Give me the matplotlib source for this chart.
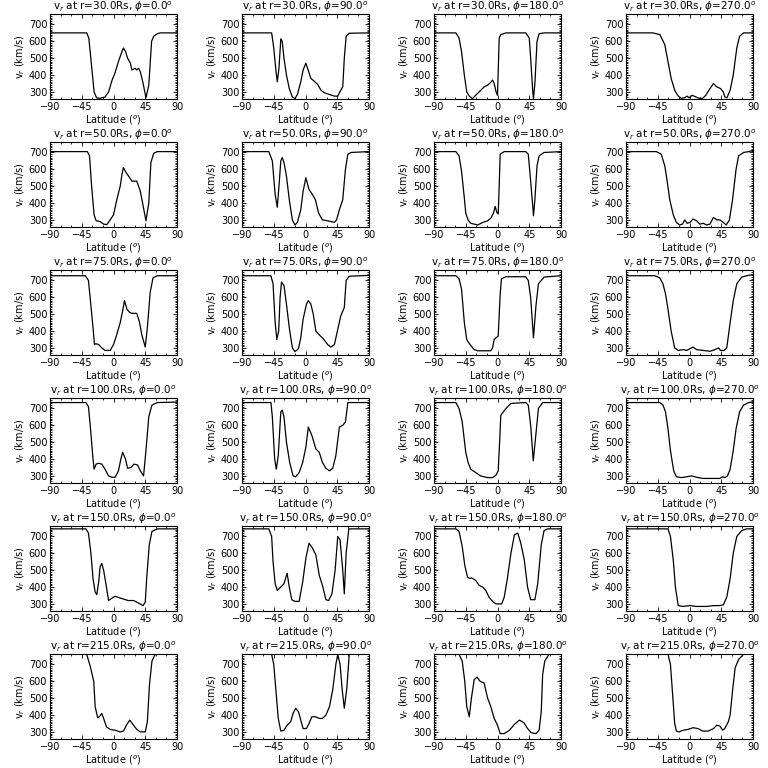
import matplotlib
matplotlib.use("Agg")
import matplotlib.pyplot as plt
from matplotlib.ticker import MultipleLocator

# radial velocity profiles vs latitude
radii = [30.0, 50.0, 75.0, 100.0, 150.0, 215.0]
phis = [0.0, 90.0, 180.0, 270.0]

# r = 30 Rs
lat_30_0 = [-90, -38, -35, -31, -27.5, -24, -19, -12, -7, -2, 2, 7, 12, 14, 17, 20, 24, 26, 31, 33, 35.5, 38, 42, 46, 50, 54, 57, 62, 66, 90]
v_30_0 = [650, 650, 620, 450, 300, 265, 262, 270, 300, 370, 410, 480, 540, 560, 540, 500, 470, 430, 440, 430, 440, 420, 350, 265, 340, 600, 630, 645, 650, 650]
lat_30_90 = [-90, -48, -45, -42, -40, -37.6, -35, -33, -30.5, -27, -23, -18.6, -15, -11.5, -6.7, -3.4, 0.5, 3, 7.6, 12, 17, 22, 26.6, 33.8, 41, 45.7, 50, 52.8, 55, 57.6, 62, 90]
v_30_90 = [650, 650, 560, 430, 360, 440, 615, 600, 500, 400, 320, 270, 260, 285, 360, 430, 470, 440, 380, 365, 345, 310, 295, 285, 275, 275, 310, 330, 500, 630, 648, 650]
lat_30_180 = [-90, -59, -54.5, -51, -47, -43.6, -40, -35.5, -31, -23.7, -19, -14, -10, -7, -4.7, -2, 0, 2.4, 4.7, 12, 40, 45, 47, 50, 51, 53, 56, 59, 66, 90]
v_30_180 = [650, 650, 620, 540, 400, 300, 275, 260, 280, 310, 330, 340, 355, 370, 350, 300, 280, 620, 640, 650, 650, 620, 500, 300, 260, 350, 600, 645, 650, 650]
lat_30_270 = [-90, -52, -42, -35, -30.5, -26, -21, -16, -11.5, -6.7, -3.4, -0.5, 4, 9, 14, 18.6, 23, 29, 34, 38.6, 44, 48, 50, 53, 57.6, 62, 67, 71, 76.6, 90]
v_30_270 = [650, 650, 640, 580, 480, 380, 310, 275, 262, 265, 275, 265, 280, 270, 262, 262, 280, 320, 350, 330, 320, 300, 270, 265, 310, 400, 560, 630, 650, 650]

# r = 50 Rs
lat_50_0 = [-90, -37, -34, -31, -27.5, -24.6, -19, -14, -9.5, -4.7, 0, 4.7, 9.5, 12, 14, 18, 23, 26, 33, 38, 42.6, 46, 50, 53, 57, 62, 90]
v_50_0 = [705, 705, 680, 500, 330, 295, 290, 275, 272, 300, 330, 420, 500, 570, 610, 580, 550, 530, 530, 470, 370, 295, 400, 640, 695, 705, 705]
lat_50_90 = [-90, -52, -47, -43, -40, -37.6, -35, -33, -30.5, -27, -23, -18.6, -15, -11.5, -6.7, -3.4, 0.5, 5, 10, 14, 18.6, 24, 31.4, 36, 41, 44, 48, 52.8, 56.6, 60, 64.7, 90]
v_50_90 = [705, 705, 650, 450, 375, 500, 650, 670, 640, 560, 420, 300, 270, 285, 360, 470, 550, 480, 450, 420, 340, 300, 295, 290, 285, 300, 360, 420, 600, 690, 700, 705]
lat_50_180 = [-90, -59, -54.5, -51, -47, -45, -41.7, -38, -28, -21, -14, -9.5, -5.7, -3.3, -1, 1, 2.4, 3.8, 9.5, 40, 43.6, 46.4, 50, 51, 53, 56, 59, 66, 90]
v_50_180 = [705, 705, 680, 590, 430, 340, 300, 280, 270, 285, 295, 310, 340, 380, 345, 335, 500, 690, 705, 705, 690, 560, 380, 325, 420, 620, 680, 700, 705]
lat_50_270 = [-90, -47, -40, -35, -32, -28, -23, -18.6, -14, -10, -6.7, -3.4, 0.5, 5, 10, 14.7, 19.5, 24, 29, 34, 38.6, 43, 48, 52, 56.6, 61, 66, 69.6, 76.6, 84, 90]
v_50_270 = [705, 705, 690, 620, 540, 420, 330, 285, 270, 275, 300, 280, 285, 305, 295, 275, 280, 270, 275, 315, 300, 300, 285, 270, 300, 420, 600, 680, 700, 705, 712]

# r = 75 Rs
lat_75_0 = [-90, -40, -35.5, -32, -29, -27, -25, -21, -16.6, -12, -4.7, 0, 4.7, 9.5, 13, 15.6, 19, 23, 26, 33, 37, 40, 45, 48, 52, 56, 62, 90]
v_75_0 = [728, 728, 700, 550, 420, 320, 325, 320, 300, 285, 285, 320, 380, 450, 520, 580, 530, 510, 505, 505, 450, 380, 305, 420, 630, 715, 728, 728]
lat_75_90 = [-90, -49, -46, -43, -40.6, -38, -36, -34, -30.5, -27, -23, -18.6, -15, -10, -6.7, -3.4, 1.4, 4, 7.6, 11, 14.7, 20, 24, 31.4, 36, 41, 45.7, 50, 55, 57.6, 62, 90]
v_75_90 = [728, 728, 680, 450, 350, 400, 600, 690, 670, 560, 420, 300, 278, 295, 360, 470, 560, 580, 560, 500, 400, 375, 360, 320, 305, 320, 410, 490, 540, 700, 725, 730]
lat_75_180 = [-90, -59, -54.5, -51, -47, -43.6, -39, -33, -28, -9.5, -7, -4.7, -2, 1, 3.8, 5.6, 12, 40, 43.6, 47, 51, 54.5, 58, 66, 80.5, 90]
v_75_180 = [728, 728, 710, 650, 450, 350, 320, 290, 283, 283, 300, 350, 360, 370, 620, 710, 722, 722, 700, 600, 360, 550, 680, 720, 725, 728]
lat_75_270 = [-90, -49, -42, -37.6, -34, -30.5, -26, -21, -16, -9, -4, 0.5, 5, 10, 19.5, 29, 36, 41, 44, 49, 52.8, 57.6, 62, 67, 74, 81, 90]
v_75_270 = [728, 728, 715, 680, 620, 530, 400, 300, 285, 290, 285, 295, 305, 290, 285, 280, 290, 300, 285, 285, 300, 450, 580, 680, 720, 728, 735]

# r = 100 Rs
lat_100_0 = [-90, -39, -35.5, -33, -29, -27.5, -24.6, -21, -16.6, -12, -7, -2, 2.4, 7, 10.4, 13, 17, 20, 24.6, 29, 34, 38, 42.6, 46, 50, 54.5, 62, 90]
v_100_0 = [735, 735, 710, 600, 400, 340, 370, 375, 370, 340, 300, 292, 292, 330, 400, 440, 400, 345, 350, 370, 365, 330, 300, 450, 650, 720, 735, 738]
lat_100_90 = [-90, -49, -47, -43.7, -41.4, -38.6, -35, -33, -30.5, -27, -22.4, -17.6, -14, -9, -4, 0.5, 4, 9, 14.7, 19.5, 24, 29, 34, 38.6, 43, 48, 52.8, 56.6, 60, 90]
v_100_90 = [735, 735, 650, 400, 340, 420, 680, 690, 650, 500, 380, 300, 295, 320, 380, 470, 590, 540, 460, 440, 380, 345, 330, 345, 420, 590, 600, 620, 735, 735]
lat_100_180 = [-90, -59, -54.5, -50, -45, -41.7, -38, -31, -24, -14, -7, -2, 1, 3, 4.7, 12, 19, 40, 43.6, 47, 50.7, 54.5, 58, 64, 90]
v_100_180 = [735, 735, 700, 620, 440, 380, 340, 320, 300, 290, 290, 305, 330, 500, 660, 700, 730, 735, 720, 600, 390, 550, 700, 735, 735]
lat_100_270 = [-90, -42, -37.6, -34, -30.5, -27, -22.4, -18.6, -11.5, -4, 3, 12, 19.5, 34, 43, 47, 50, 53.8, 57.6, 62, 66, 71, 76.6, 84, 90]
v_100_270 = [735, 735, 720, 680, 580, 450, 330, 295, 290, 295, 300, 290, 285, 285, 285, 295, 290, 300, 340, 450, 580, 680, 720, 735, 740]

# r = 150 Rs
lat_150_0 = [-90, -39, -35.5, -32, -29, -26, -23.7, -21, -19, -16.6, -14, -10, -7, -2, 2.4, 9.5, 17, 21, 28.7, 35.5, 42, 45, 47, 50.7, 54.5, 62, 90]
v_150_0 = [745, 745, 720, 600, 450, 370, 355, 430, 520, 540, 500, 400, 320, 335, 345, 335, 325, 320, 320, 305, 290, 310, 450, 650, 730, 745, 745]
lat_150_90 = [-90, -52, -48, -46, -43, -40, -35, -30.5, -27, -26, -23, -19.5, -15, -9, -4, 0.5, 5, 10, 14.7, 19.5, 24, 29, 32.8, 37.5, 42, 45.7, 49, 52.8, 55, 57.6, 61.4, 90]
v_150_90 = [745, 745, 700, 550, 420, 380, 400, 420, 470, 480, 400, 325, 315, 315, 430, 570, 660, 630, 590, 470, 410, 325, 320, 360, 500, 700, 680, 500, 360, 600, 745, 745]
lat_150_180 = [-90, -59, -54.5, -50, -46.4, -42.6, -39, -37, -31, -26, -21, -16.6, -12, -7, -2, 6, 9.5, 14, 19, 24, 28.7, 33, 38, 42.6, 47, 53, 57, 62, 66, 71, 90]
v_150_180 = [745, 745, 730, 640, 530, 460, 450, 455, 440, 410, 400, 380, 340, 315, 300, 300, 340, 450, 600, 710, 720, 660, 560, 400, 325, 325, 420, 650, 735, 745, 745]
lat_150_270 = [-90, -30.5, -27, -23, -20, -16, -9, 0.5, 10, 24, 34, 43, 48, 52.8, 57.6, 62, 67, 74, 81, 90]
v_150_270 = [745, 745, 700, 560, 400, 290, 285, 290, 285, 285, 290, 290, 295, 340, 450, 600, 700, 735, 745, 745]

# r = 215 Rs
lat_215_0 = [-90, -38, -33, -28, -26, -22.5, -20, -16.6, -14, -10, -4.7, 2.4, 9.5, 14, 19, 23, 27.5, 33, 38, 45, 48, 51, 54.5, 59, 90]
v_215_0 = [760, 760, 690, 600, 450, 385, 390, 410, 380, 330, 315, 310, 300, 305, 345, 370, 345, 315, 300, 300, 360, 580, 720, 760, 760]
lat_215_90 = [-90, -48, -45, -42, -38.6, -35, -30.5, -26, -21, -17.6, -14, -10, -6.7, -3.4, 1.4, 5, 9, 14, 19.5, 24, 29, 34, 38.6, 43, 45.7, 49, 52, 55, 58.6, 62, 90]
v_215_90 = [760, 760, 700, 550, 380, 305, 310, 340, 360, 410, 440, 420, 370, 320, 320, 350, 390, 390, 380, 380, 400, 450, 550, 700, 760, 700, 550, 440, 560, 760, 760]
lat_215_180 = [-90, -54.5, -50, -46.4, -43.6, -40, -37, -33, -29, -24.6, -19, -14, -9.5, -4.7, 0, 3.8, 9.5, 17, 24, 31, 37.4, 42.6, 48, 54.5, 59, 62, 64, 67, 73, 90]
v_215_180 = [760, 760, 720, 600, 450, 390, 500, 610, 625, 600, 590, 500, 450, 380, 340, 290, 290, 310, 345, 370, 355, 320, 295, 290, 310, 420, 640, 720, 760, 760]
lat_215_270 = [-90, -30.5, -27, -24.4, -21, -18.6, -15, -9, -2, 5, 12, 18.6, 26.6, 34, 38.6, 43, 47, 50, 55, 57.6, 61.4, 64.7, 69.6, 76.6, 90]
v_215_270 = [760, 760, 700, 550, 350, 305, 300, 310, 315, 325, 320, 305, 305, 320, 340, 335, 310, 320, 360, 400, 560, 680, 730, 760, 760]

profiles = {
    (30.0, 0.0): (lat_30_0, v_30_0), (30.0, 90.0): (lat_30_90, v_30_90),
    (30.0, 180.0): (lat_30_180, v_30_180), (30.0, 270.0): (lat_30_270, v_30_270),
    (50.0, 0.0): (lat_50_0, v_50_0), (50.0, 90.0): (lat_50_90, v_50_90),
    (50.0, 180.0): (lat_50_180, v_50_180), (50.0, 270.0): (lat_50_270, v_50_270),
    (75.0, 0.0): (lat_75_0, v_75_0), (75.0, 90.0): (lat_75_90, v_75_90),
    (75.0, 180.0): (lat_75_180, v_75_180), (75.0, 270.0): (lat_75_270, v_75_270),
    (100.0, 0.0): (lat_100_0, v_100_0), (100.0, 90.0): (lat_100_90, v_100_90),
    (100.0, 180.0): (lat_100_180, v_100_180), (100.0, 270.0): (lat_100_270, v_100_270),
    (150.0, 0.0): (lat_150_0, v_150_0), (150.0, 90.0): (lat_150_90, v_150_90),
    (150.0, 180.0): (lat_150_180, v_150_180), (150.0, 270.0): (lat_150_270, v_150_270),
    (215.0, 0.0): (lat_215_0, v_215_0), (215.0, 90.0): (lat_215_90, v_215_90),
    (215.0, 180.0): (lat_215_180, v_215_180), (215.0, 270.0): (lat_215_270, v_215_270),
}

W = H = 768
fig = plt.figure(figsize=(7.68, 7.68), dpi=100)

for i, r in enumerate(radii):
    for j, phi in enumerate(phis):
        # each panel sits in a 192x128 px cell
        left = (50 + 192 * j) / W
        bottom = 1 - (99 + 128 * i) / H
        ax = fig.add_axes([left, bottom, 127 / W, 85 / H])
        lat, v = profiles[(r, phi)]
        ax.plot(lat, v, color='black', lw=0.9)
        ax.set_xlim(-90, 90)
        ax.set_ylim(258, 762)
        ax.set_xticks([-90, -45, 0, 45, 90])
        ax.set_yticks([300, 400, 500, 600, 700])
        ax.xaxis.set_minor_locator(MultipleLocator(15))
        ax.yaxis.set_minor_locator(MultipleLocator(10))
        ax.tick_params(which='both', direction='in', top=True, right=True,
                       labelsize=7, width=0.6, pad=2)
        ax.tick_params(which='major', length=3)
        ax.tick_params(which='minor', length=1.5)
        for s in ax.spines.values():
            s.set_linewidth(0.8)
        ax.set_title(r"v$_r$ at r=%.1fRs, $\phi$=%.1f$^o$" % (r, phi),
                     fontsize=7.5, pad=2)
        ax.set_xlabel(r"Latitude ($^o$)", fontsize=7, labelpad=1)
        ax.set_ylabel(r"v$_r$ (km/s)", fontsize=7, labelpad=1)

fig.savefig('out.png', dpi=100)
